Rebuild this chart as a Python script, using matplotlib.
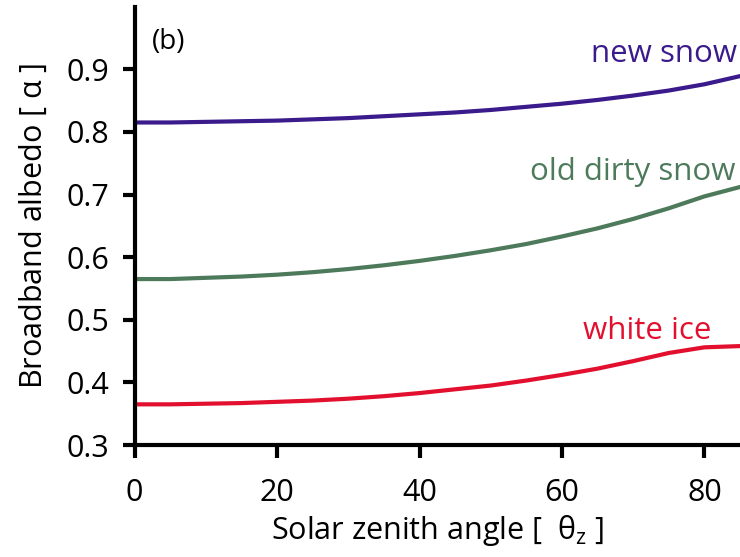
import matplotlib
matplotlib.use("Agg")
import matplotlib.pyplot as plt

plt.rcParams['font.family'] = ['Open Sans', 'DejaVu Sans']
plt.rcParams['mathtext.fontset'] = 'custom'
plt.rcParams['mathtext.rm'] = 'Open Sans'
plt.rcParams['mathtext.it'] = 'Open Sans'

zenith = [0, 5, 10, 15, 20, 25, 30, 35, 40, 45, 50, 55, 60, 65, 70, 75, 80, 85]
new_snow = [0.815, 0.815, 0.816, 0.817, 0.818, 0.820, 0.822, 0.825, 0.828, 0.831, 0.835, 0.840, 0.845, 0.851, 0.858, 0.866, 0.876, 0.889]
old_dirty = [0.565, 0.565, 0.567, 0.569, 0.572, 0.576, 0.581, 0.587, 0.594, 0.602, 0.611, 0.621, 0.633, 0.646, 0.661, 0.678, 0.697, 0.712]
white_ice = [0.365, 0.365, 0.366, 0.367, 0.369, 0.371, 0.374, 0.378, 0.383, 0.389, 0.395, 0.403, 0.412, 0.422, 0.434, 0.447, 0.456, 0.458]

fig = plt.figure(figsize=(7.4, 5.57), dpi=100)
ax = fig.add_axes([0.182, 0.201, 0.818, 0.786])

ax.plot(zenith, new_snow, color='#3b1a8c', lw=3)
ax.plot(zenith, old_dirty, color='#4e7a5c', lw=3)
ax.plot(zenith, white_ice, color='#e2102e', lw=3)

ax.text(84.6, 0.911, 'new snow', color='#3b1a8c', fontsize=22.5, ha='right', va='baseline')
ax.text(84.3, 0.723, 'old dirty snow', color='#4e7a5c', fontsize=22.5, ha='right', va='baseline')
ax.text(81, 0.470, 'white ice', color='#e2102e', fontsize=22.5, ha='right', va='baseline')
ax.text(2.4, 0.943, '(b)', fontsize=20, ha='left', va='center')

ax.set_xlim(0, 85)
ax.set_ylim(0.3, 0.999)
ax.set_xticks([0, 20, 40, 60, 80])
ax.set_yticks([0.3, 0.4, 0.5, 0.6, 0.7, 0.8, 0.9])
ax.set_yticklabels(['0.3', '0.4', '0.5', '0.6', '0.7', '0.8', '0.9'])

for s in ['top', 'right']:
    ax.spines[s].set_visible(False)
for s in ['left', 'bottom']:
    ax.spines[s].set_linewidth(3)
ax.tick_params(direction='out', length=9, width=3, labelsize=22)
ax.tick_params(axis='x', pad=15)
ax.tick_params(axis='y', pad=9)

ax.set_xlabel('Solar zenith angle [  $\\theta_z$ ]', fontsize=22, labelpad=3)
ax.set_ylabel('Broadband albedo [ $\\alpha$ ]', fontsize=22, labelpad=13)

fig.savefig('out.png', dpi=100)
